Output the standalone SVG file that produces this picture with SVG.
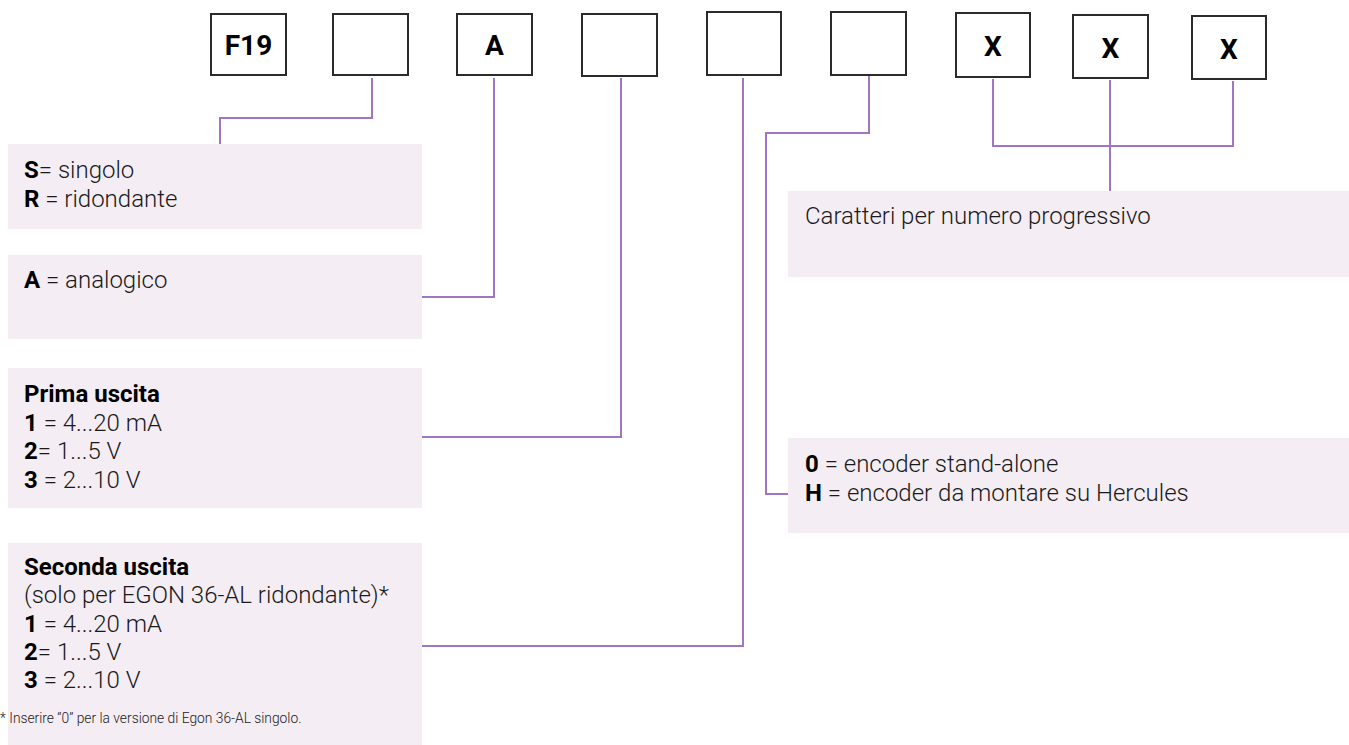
<svg xmlns="http://www.w3.org/2000/svg" width="1349" height="745" viewBox="0 0 1349 745">
<style>
.box{fill:#fff;stroke:#2b2b2b;stroke-width:2}
.code{font-family:Roboto,"Liberation Sans",sans-serif;font-weight:700;font-size:28px;fill:#000;text-anchor:middle}
.panel{fill:#f4edf4}
.t{font-family:Roboto,"Liberation Sans",sans-serif;font-weight:300;font-size:24px;fill:#1a1a1a}
.b{font-weight:700;fill:#000}
.fn{font-family:Roboto,"Liberation Sans",sans-serif;font-weight:300;font-size:13.8px;fill:#1a1a1a}
.ln{fill:none;stroke:#a274c4;stroke-width:2}
</style>
<rect width="1349" height="745" fill="#fff"/>
<g id="connectors">
<polyline class="ln" points="372,78 372,118 220,118 220,144"/>
<polyline class="ln" points="494,78 494,297 422,297"/>
<polyline class="ln" points="621,78 621,437 422,437"/>
<polyline class="ln" points="743,78 743,646 422,646"/>
<polyline class="ln" points="869,76 869,133 766,133 766,494 788,494"/>
<polyline class="ln" points="993,79 993,146 1233,146 1233,81"/>
<line class="ln" x1="1110" y1="80" x2="1110" y2="191"/>
</g>
<g id="node-f19"><rect class="box" x="211" y="14" width="75" height="61"/><text class="code" x="248.5" y="55">F19</text></g>
<g id="node-2"><rect class="box" x="333" y="14" width="75" height="61"/></g>
<g id="node-a"><rect class="box" x="457" y="14" width="75" height="61"/><text class="code" x="494.5" y="55">A</text></g>
<g id="node-4"><rect class="box" x="582" y="14" width="75" height="62"/></g>
<g id="node-5"><rect class="box" x="707" y="12" width="74" height="63"/></g>
<g id="node-6"><rect class="box" x="831" y="12" width="75" height="63"/></g>
<g id="node-x1"><rect class="box" x="956" y="13" width="74" height="64"/><text class="code" x="993" y="56">X</text></g>
<g id="node-x2"><rect class="box" x="1073" y="15" width="75" height="63"/><text class="code" x="1110.5" y="58">X</text></g>
<g id="node-x3"><rect class="box" x="1192" y="16" width="74" height="63"/><text class="code" x="1229" y="59">X</text></g>
<g id="panel-sr"><rect class="panel" x="8" y="144" width="414" height="85"/>
<text class="t" x="24" y="178"><tspan class="b">S</tspan>= singolo</text>
<text class="t" x="24" y="207"><tspan class="b">R</tspan> = ridondante</text></g>
<g id="panel-a"><rect class="panel" x="8" y="255" width="414" height="84"/>
<text class="t" x="24" y="288"><tspan class="b">A</tspan> = analogico</text></g>
<g id="panel-prima"><rect class="panel" x="8" y="368" width="414" height="140"/>
<text class="t" x="24" y="402"><tspan class="b">Prima uscita</tspan></text>
<text class="t" x="24" y="431"><tspan class="b">1</tspan> = 4...20 mA</text>
<text class="t" x="24" y="459"><tspan class="b">2</tspan>= 1...5 V</text>
<text class="t" x="24" y="488"><tspan class="b">3</tspan> = 2...10 V</text></g>
<g id="panel-seconda"><rect class="panel" x="8" y="543" width="414" height="202"/>
<text class="t" x="24" y="575"><tspan class="b">Seconda uscita</tspan></text>
<text class="t" x="24" y="603">(solo per EGON 36-AL ridondante)*</text>
<text class="t" x="24" y="632"><tspan class="b">1</tspan> = 4...20 mA</text>
<text class="t" x="24" y="660"><tspan class="b">2</tspan>= 1...5 V</text>
<text class="t" x="24" y="688"><tspan class="b">3</tspan> = 2...10 V</text>
<text class="fn" x="0" y="723">* Inserire “0” per la versione di Egon 36-AL singolo.</text></g>
<g id="panel-caratteri"><rect class="panel" x="788" y="191" width="561" height="86"/>
<text class="t" x="805" y="224">Caratteri per numero progressivo</text></g>
<g id="panel-encoder"><rect class="panel" x="788" y="438" width="561" height="95"/>
<text class="t" x="805" y="472"><tspan class="b">0</tspan> = encoder stand-alone</text>
<text class="t" x="805" y="501"><tspan class="b">H</tspan> = encoder da montare su Hercules</text></g>
</svg>
